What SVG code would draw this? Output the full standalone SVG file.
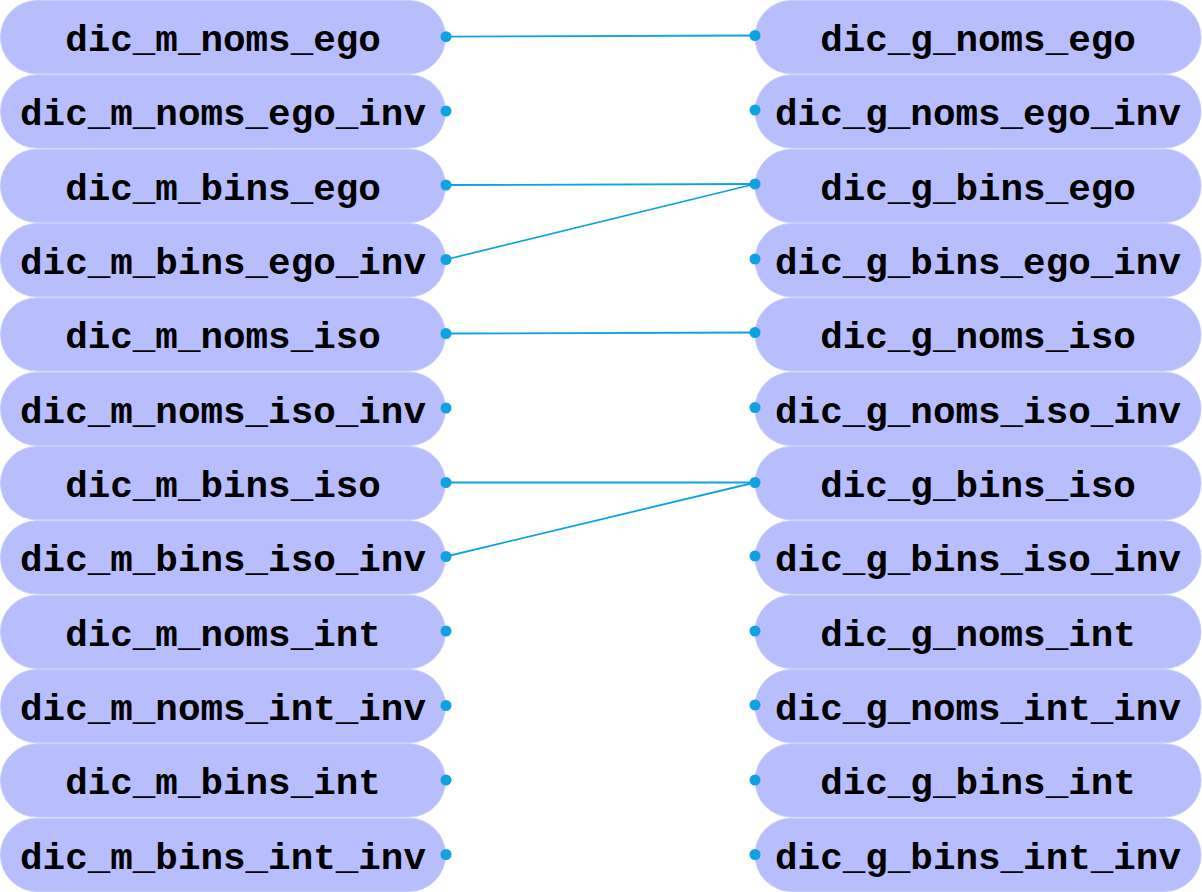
<svg xmlns="http://www.w3.org/2000/svg" width="1202" height="892" viewBox="0 0 1202 892">
<style>
.n{fill:#b8bdfd;stroke:#c9cdfd;stroke-width:1}
.t{font-family:"Liberation Mono","Courier New",monospace;font-weight:bold;font-size:37.6px;fill:#000;text-anchor:middle}
.d{fill:#0ea2e2}
.c line{stroke:#0ea2e2;stroke-width:1.8}
</style>
<rect width="1202" height="892" fill="#fff"/>
<g id="left">
<g id="m_noms_ego"><rect class="n" x="0.5" y="0.5" width="445" height="73.3" rx="36.5"/><text class="t" x="223" y="51">dic_m_noms_ego</text></g>
<g id="m_noms_ego_inv"><rect class="n" x="0.5" y="74.8" width="445" height="73.3" rx="36.5"/><text class="t" x="223" y="125.3">dic_m_noms_ego_inv</text></g>
<g id="m_bins_ego"><rect class="n" x="0.5" y="149.2" width="445" height="73.3" rx="36.5"/><text class="t" x="223" y="199.7">dic_m_bins_ego</text></g>
<g id="m_bins_ego_inv"><rect class="n" x="0.5" y="223.5" width="445" height="73.3" rx="36.5"/><text class="t" x="223" y="274">dic_m_bins_ego_inv</text></g>
<g id="m_noms_iso"><rect class="n" x="0.5" y="297.8" width="445" height="73.3" rx="36.5"/><text class="t" x="223" y="348.3">dic_m_noms_iso</text></g>
<g id="m_noms_iso_inv"><rect class="n" x="0.5" y="372.2" width="445" height="73.3" rx="36.5"/><text class="t" x="223" y="422.7">dic_m_noms_iso_inv</text></g>
<g id="m_bins_iso"><rect class="n" x="0.5" y="446.5" width="445" height="73.3" rx="36.5"/><text class="t" x="223" y="497">dic_m_bins_iso</text></g>
<g id="m_bins_iso_inv"><rect class="n" x="0.5" y="520.8" width="445" height="73.3" rx="36.5"/><text class="t" x="223" y="571.3">dic_m_bins_iso_inv</text></g>
<g id="m_noms_int"><rect class="n" x="0.5" y="595.2" width="445" height="73.3" rx="36.5"/><text class="t" x="223" y="645.7">dic_m_noms_int</text></g>
<g id="m_noms_int_inv"><rect class="n" x="0.5" y="669.5" width="445" height="73.3" rx="36.5"/><text class="t" x="223" y="720">dic_m_noms_int_inv</text></g>
<g id="m_bins_int"><rect class="n" x="0.5" y="743.8" width="445" height="73.3" rx="36.5"/><text class="t" x="223" y="794.3">dic_m_bins_int</text></g>
<g id="m_bins_int_inv"><rect class="n" x="0.5" y="818.2" width="445" height="73.3" rx="36.5"/><text class="t" x="223" y="868.7">dic_m_bins_int_inv</text></g>
</g>
<g id="right">
<g id="g_noms_ego"><rect class="n" x="755" y="0.5" width="446" height="73.3" rx="36.5"/><text class="t" x="978" y="51">dic_g_noms_ego</text></g>
<g id="g_noms_ego_inv"><rect class="n" x="755" y="74.8" width="446" height="73.3" rx="36.5"/><text class="t" x="978" y="125.3">dic_g_noms_ego_inv</text></g>
<g id="g_bins_ego"><rect class="n" x="755" y="149.2" width="446" height="73.3" rx="36.5"/><text class="t" x="978" y="199.7">dic_g_bins_ego</text></g>
<g id="g_bins_ego_inv"><rect class="n" x="755" y="223.5" width="446" height="73.3" rx="36.5"/><text class="t" x="978" y="274">dic_g_bins_ego_inv</text></g>
<g id="g_noms_iso"><rect class="n" x="755" y="297.8" width="446" height="73.3" rx="36.5"/><text class="t" x="978" y="348.3">dic_g_noms_iso</text></g>
<g id="g_noms_iso_inv"><rect class="n" x="755" y="372.2" width="446" height="73.3" rx="36.5"/><text class="t" x="978" y="422.7">dic_g_noms_iso_inv</text></g>
<g id="g_bins_iso"><rect class="n" x="755" y="446.5" width="446" height="73.3" rx="36.5"/><text class="t" x="978" y="497">dic_g_bins_iso</text></g>
<g id="g_bins_iso_inv"><rect class="n" x="755" y="520.8" width="446" height="73.3" rx="36.5"/><text class="t" x="978" y="571.3">dic_g_bins_iso_inv</text></g>
<g id="g_noms_int"><rect class="n" x="755" y="595.2" width="446" height="73.3" rx="36.5"/><text class="t" x="978" y="645.7">dic_g_noms_int</text></g>
<g id="g_noms_int_inv"><rect class="n" x="755" y="669.5" width="446" height="73.3" rx="36.5"/><text class="t" x="978" y="720">dic_g_noms_int_inv</text></g>
<g id="g_bins_int"><rect class="n" x="755" y="743.8" width="446" height="73.3" rx="36.5"/><text class="t" x="978" y="794.3">dic_g_bins_int</text></g>
<g id="g_bins_int_inv"><rect class="n" x="755" y="818.2" width="446" height="73.3" rx="36.5"/><text class="t" x="978" y="868.7">dic_g_bins_int_inv</text></g>
</g>
<g id="connectors" class="c">
<line x1="446" y1="36.7" x2="755" y2="35.5"/>
<line x1="446" y1="185" x2="755" y2="184"/>
<line x1="446" y1="259.5" x2="755" y2="184"/>
<line x1="446" y1="333.5" x2="755" y2="332.5"/>
<line x1="446" y1="482.5" x2="755" y2="482.5"/>
<line x1="446" y1="556.5" x2="755" y2="482.5"/>
</g>
<g id="ports">
<circle class="d" cx="446" cy="36.7" r="5.5"/><circle class="d" cx="446" cy="111" r="5.5"/><circle class="d" cx="446" cy="185" r="5.5"/><circle class="d" cx="446" cy="259.5" r="5.5"/><circle class="d" cx="446" cy="333.5" r="5.5"/><circle class="d" cx="446" cy="408" r="5.5"/><circle class="d" cx="446" cy="482.5" r="5.5"/><circle class="d" cx="446" cy="556.5" r="5.5"/><circle class="d" cx="446" cy="631" r="5.5"/><circle class="d" cx="446" cy="705.5" r="5.5"/><circle class="d" cx="446" cy="780" r="5.5"/><circle class="d" cx="446" cy="854.5" r="5.5"/>
<circle class="d" cx="755" cy="35.5" r="5.5"/><circle class="d" cx="755" cy="110" r="5.5"/><circle class="d" cx="755" cy="184" r="5.5"/><circle class="d" cx="755" cy="259" r="5.5"/><circle class="d" cx="755" cy="332.5" r="5.5"/><circle class="d" cx="755" cy="407.5" r="5.5"/><circle class="d" cx="755" cy="482.5" r="5.5"/><circle class="d" cx="755" cy="556" r="5.5"/><circle class="d" cx="755" cy="631" r="5.5"/><circle class="d" cx="755" cy="705" r="5.5"/><circle class="d" cx="755" cy="780" r="5.5"/><circle class="d" cx="755" cy="854.5" r="5.5"/>
</g>
</svg>
